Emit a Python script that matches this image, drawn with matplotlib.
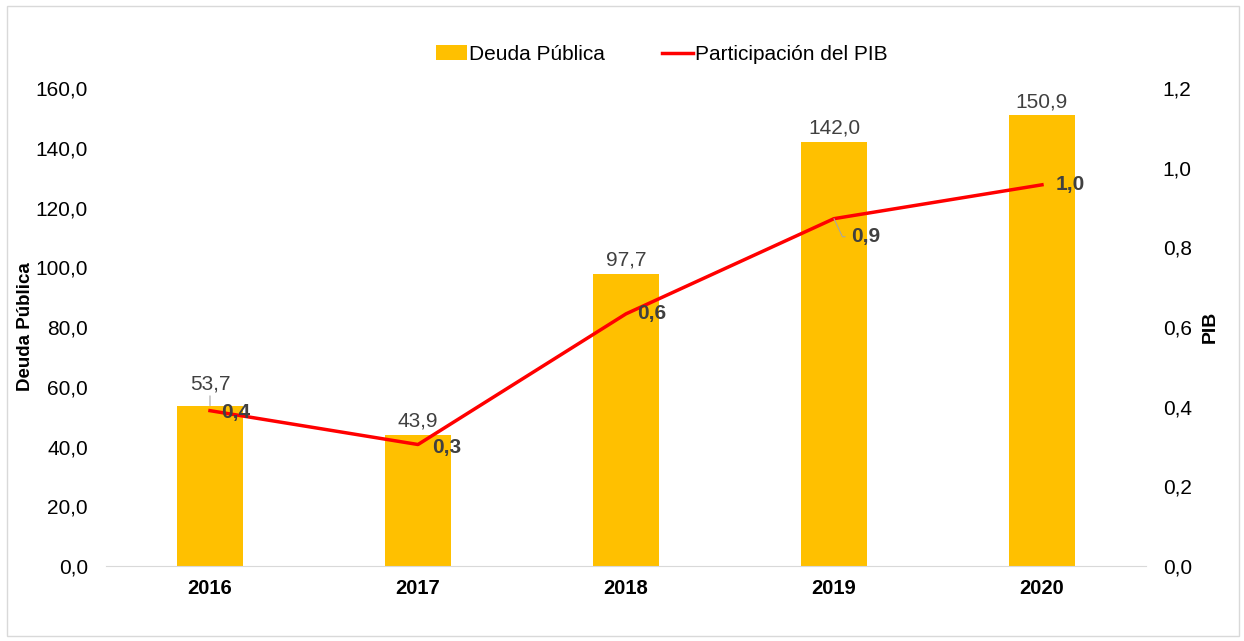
import numpy as np
import matplotlib.pyplot as plt
from matplotlib.patches import Rectangle

plt.rcParams['font.family'] = ['Liberation Sans', 'DejaVu Sans']

years = ['2016', '2017', '2018', '2019', '2020']
deuda = [53.7, 43.9, 97.7, 142.0, 150.9]
pib = [0.39, 0.305, 0.633, 0.872, 0.957]
pib_labels = ['0,4', '0,3', '0,6', '0,9', '1,0']

bar_color = '#FFC000'
line_color = '#FF0000'
text_gray = '#404040'
fs = 15

fig = plt.figure(figsize=(12.44, 6.41), dpi=100)
fig.patches.append(Rectangle((0.006, 0.008), 0.99, 0.982, transform=fig.transFigure,
                             fill=False, edgecolor='#D9D9D9', lw=1))
ax = fig.add_axes([0.0852, 0.117, 0.836, 0.7457])
ax2 = ax.twinx()

x = np.arange(len(years))
bars = ax.bar(x, deuda, width=0.32, color=bar_color, label='Deuda Pública', zorder=2)
ax.set_xlim(-0.5, len(years) - 0.5)
ax.set_ylim(0, 160)
ax.set_yticks(np.arange(0, 161, 20))
ax.set_yticklabels([f'{v:.1f}'.replace('.', ',') for v in np.arange(0, 161, 20)])
ax.set_xticks(x)
ax.set_xticklabels(years, fontweight='bold')
ax.set_ylabel('Deuda Pública', fontweight='bold', fontsize=13.5, labelpad=1)

line, = ax2.plot(x, pib, color=line_color, lw=2.5, label='Participación del PIB', zorder=3)
ax2.set_ylim(0, 1.2)
ax2.set_yticks(np.arange(0, 1.21, 0.2))
ax2.set_yticklabels([f'{v:.1f}'.replace('.', ',') for v in np.arange(0, 1.21, 0.2)])
ax2.set_ylabel('PIB', fontweight='bold', fontsize=14, labelpad=7)

for a in (ax, ax2):
    for s in ['top', 'left', 'right']:
        a.spines[s].set_visible(False)
    a.spines['bottom'].set_color('#D9D9D9')
    a.tick_params(length=0, labelsize=fs, colors='black')
ax.tick_params(axis='y', pad=13)
ax2.tick_params(axis='y', pad=12)
ax.tick_params(axis='x', pad=9, labelsize=14.5)
ax2.spines['bottom'].set_visible(False)

# bar value labels
for i, v in enumerate(deuda):
    txt = f'{v:.1f}'.replace('.', ',')
    if i == 0:
        ax.annotate(txt, (x[i], v), xytext=(0, 9), textcoords='offset points',
                    ha='center', va='bottom', fontsize=fs, color=text_gray,
                    arrowprops=dict(arrowstyle='-', color='#A6A6A6', lw=0.8,
                                    shrinkA=0, shrinkB=0))
    else:
        ax.annotate(txt, (x[i], v), xytext=(0, 3), textcoords='offset points',
                    ha='center', va='bottom', fontsize=fs, color=text_gray)

# line value labels
offsets = [(8, -1), (10, -2), (8, 0), (12, -13), (10, 0)]
for i, (v, lab) in enumerate(zip(pib, pib_labels)):
    dx, dy = offsets[i]
    if i == 3:
        ax2.annotate(lab, (x[i], v), xytext=(dx, dy), textcoords='offset points',
                     ha='left', va='center', fontsize=fs, fontweight='bold', color=text_gray,
                     arrowprops=dict(arrowstyle='-', color='#A6A6A6', lw=0.8,
                                     connectionstyle='angle,angleA=0,angleB=115',
                                     shrinkA=2, shrinkB=0))
    else:
        ax2.annotate(lab, (x[i], v), xytext=(dx, dy), textcoords='offset points',
                     ha='left', va='center', fontsize=fs, fontweight='bold', color=text_gray)

fig.legend(handles=[bars, line], labels=['Deuda Pública', 'Participación del PIB'],
           loc='center', bbox_to_anchor=(0.532, 0.915), ncol=2, frameon=False,
           fontsize=fs, handlelength=1.5, handletextpad=0.1, columnspacing=2.7)

fig.savefig('out.png', dpi=100)
